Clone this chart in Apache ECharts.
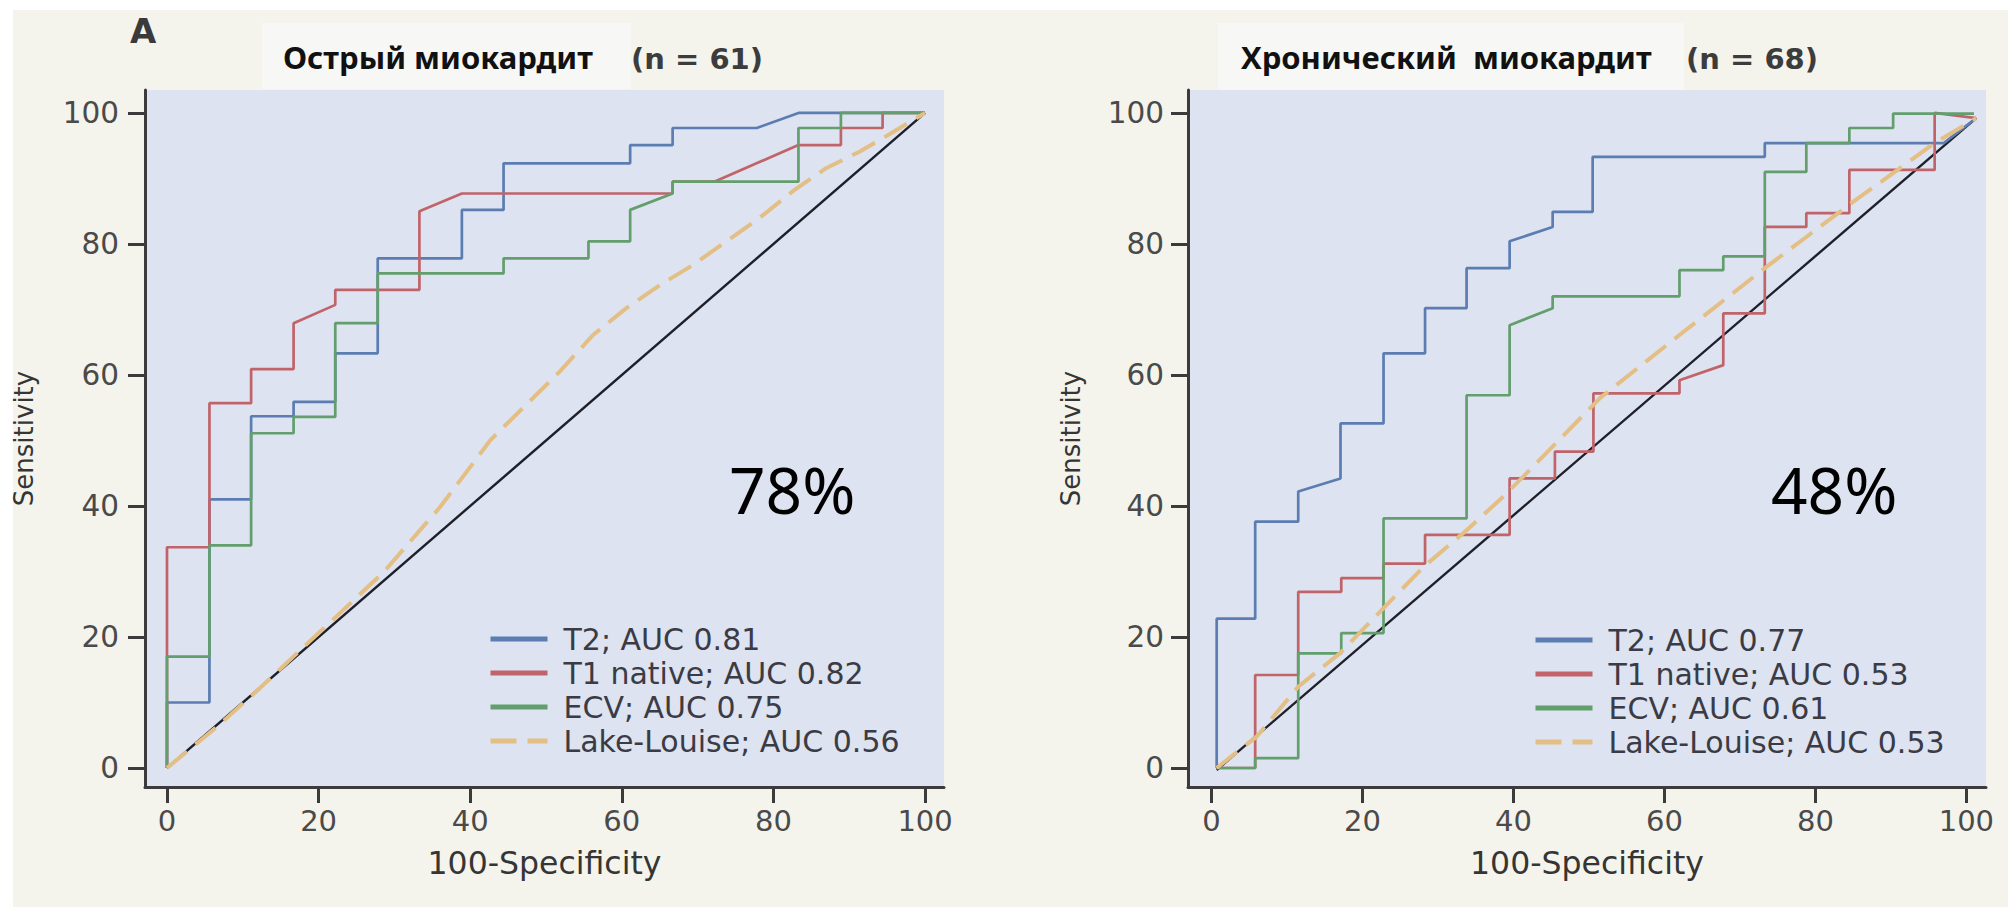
<!DOCTYPE html>
<html>
<head>
<meta charset="utf-8">
<title>ROC — миокардит</title>
<script src="https://cdn.jsdelivr.net/npm/echarts@6.0.0/dist/echarts.min.js"></script>
<style>
  html, body { margin: 0; padding: 0; background: #ffffff; }
  #chart { width: 2008px; height: 907px; }
</style>
</head>
<body>
<div id="chart"></div>
<script>
// tick values shared by both panels
const tickValues = [0, 20, 40, 60, 80, 100];

// panel A: acute myocarditis, points are [100-specificity, sensitivity]
const acuteT2 = [[0, 0], [0, 10], [5.6, 10], [5.6, 41], [11.1, 41], [11.1, 53.7], [16.7, 53.7], [16.7, 55.9],
  [22.2, 55.9], [22.2, 63.3], [27.8, 63.3], [27.8, 77.8], [38.9, 77.8], [38.9, 85.2], [44.4, 85.2], [44.4, 92.3],
  [61.1, 92.3], [61.1, 95.1], [66.7, 95.1], [66.7, 97.7], [77.8, 97.7], [83.3, 100], [100, 100]];
const acuteT1 = [[0, 0], [0, 33.7], [5.6, 33.7], [5.6, 55.7], [11.1, 55.7], [11.1, 60.9], [16.7, 60.9], [16.7, 67.9],
  [22.2, 70.7], [22.2, 73.0], [33.3, 73.0], [33.3, 85.0], [38.9, 87.7], [66.7, 87.7], [66.7, 89.5], [72.2, 89.5],
  [83.3, 95.1], [88.9, 95.1], [88.9, 97.7], [94.4, 97.7], [94.4, 100], [100, 100]];
const acuteEcv = [[0, 0], [0, 17], [5.6, 17], [5.6, 34], [11.1, 34], [11.1, 51.1], [16.7, 51.1], [16.7, 53.6],
  [22.2, 53.6], [22.2, 67.9], [27.8, 67.9], [27.8, 75.5], [44.4, 75.5], [44.4, 77.8], [55.6, 77.8], [55.6, 80.4],
  [61.1, 80.4], [61.1, 85.2], [66.7, 87.7], [66.7, 89.5], [83.3, 89.5], [83.3, 97.7], [88.9, 97.7], [88.9, 100], [100, 100]];
const acuteLake = [[0, 0], [6.6, 6.3], [11.6, 11.5], [20, 20.6], [28.5, 29.8], [36, 39.8], [42.7, 50.1], [51.8, 60.5],
  [56.2, 66.1], [60.6, 70.2], [65, 73.7], [69.4, 76.8], [73.8, 80.4], [78.2, 84], [82.6, 88.1], [87, 91.6],
  [91.4, 94.1], [95.8, 97.1], [100, 100]];
const acuteChance = [[0, 0], [100, 100]];

// panel B: chronic myocarditis
const chronicT2 = [[0.7, 0], [0.7, 22.8], [5.8, 22.8], [5.8, 37.6], [11.5, 37.6], [11.5, 42.2], [17.1, 44.2], [17.1, 52.6],
  [22.8, 52.6], [22.8, 63.3], [28.3, 63.3], [28.3, 70.2], [33.8, 70.2], [33.8, 76.3], [39.5, 76.3], [39.5, 80.4],
  [45.2, 82.6], [45.2, 84.9], [50.5, 84.9], [50.5, 93.3], [73.3, 93.3], [73.3, 95.4], [97, 95.4], [101.3, 99.2]];
const chronicT1 = [[0.7, 0], [5.8, 0], [5.8, 14.2], [11.5, 14.2], [11.5, 26.9], [17.2, 26.9], [17.2, 29.0], [22.8, 29.0],
  [22.8, 31.2], [28.3, 31.2], [28.3, 35.6], [39.5, 35.6], [39.5, 44.2], [45.5, 44.2], [45.5, 48.3], [50.6, 48.3],
  [50.6, 57.2], [62, 57.2], [62, 59.2], [67.8, 61.5], [67.8, 69.4], [73.3, 69.4], [73.3, 82.6], [78.8, 82.6],
  [78.8, 84.7], [84.5, 84.7], [84.5, 91.3], [95.8, 91.3], [95.8, 100], [101.3, 99.2]];
const chronicEcv = [[0.7, 0], [5.8, 0], [5.8, 1.5], [11.5, 1.5], [11.5, 17.5], [17.2, 17.5], [17.2, 20.6], [22.8, 20.6],
  [22.8, 38.1], [33.8, 38.1], [33.8, 56.9], [39.5, 56.9], [39.5, 67.6], [45.2, 70.2], [45.2, 72.0], [62, 72.0],
  [62, 76.0], [67.8, 76.0], [67.8, 78.1], [73.3, 78.1], [73.3, 91.0], [78.8, 91.0], [78.8, 95.4], [84.5, 95.4],
  [84.5, 97.7], [90.3, 97.7], [90.3, 99.9], [101, 99.9]];
const chronicLake = [[0.7, 0], [6, 4.8], [11.5, 12.4], [17, 17.5], [22.8, 24.4], [28.1, 30.7], [33.8, 36.3], [39.1, 41.9],
  [44.8, 48.6], [51.5, 56.5], [62, 66.1], [73.3, 76.3], [84.5, 86], [95.8, 95.4], [101.3, 99.2]];
const chronicChance = [[0.7, -0.3], [101.3, 99.2]];

const acuteNames = ['T2; AUC 0.81', 'T1 native; AUC 0.82', 'ECV; AUC 0.75', 'Lake-Louise; AUC 0.56'];
const chronicNames = ['T2; AUC 0.77', 'T1 native; AUC 0.53', 'ECV; AUC 0.61', 'Lake-Louise; AUC 0.53'];
const panelTitles = ['Острый миокардит', 'Хронический  миокардит'];
const panelCounts = ['(n = 61)', '(n = 68)'];
const panelAccuracy = ['78%', '48%'];

const colors = ['#5b7db2', '#c0646a', '#639e6d', '#e3bf85'];
const axisColor = '#3b3b3b';
const labelFont = 'DejaVu Sans';

function makeXAxis(gridIndex, min, max) {
  return {
    type: 'value', gridIndex, min, max,
    name: '100-Specificity', nameLocation: 'middle', nameGap: 60,
    nameTextStyle: { fontFamily: labelFont, fontSize: 31.5, color: '#353535' },
    axisLine: { onZero: false, lineStyle: { color: axisColor, width: 3 } },
    axisTick: { customValues: tickValues, length: 16, lineStyle: { color: axisColor, width: 3 } },
    axisLabel: { customValues: tickValues, margin: 19, fontFamily: labelFont, fontSize: 29, color: '#4a4a4a' },
    splitLine: { show: false }
  };
}

function makeYAxis(gridIndex, nameGap, margin) {
  return {
    type: 'value', gridIndex, min: -2.9, max: 103.5,
    name: 'Sensitivity', nameLocation: 'middle', nameGap,
    nameTextStyle: { fontFamily: labelFont, fontSize: 26, color: '#353535' },
    axisLine: { onZero: false, lineStyle: { color: axisColor, width: 3 } },
    axisTick: { customValues: tickValues, length: 17, lineStyle: { color: axisColor, width: 3 } },
    axisLabel: { customValues: tickValues, margin, fontFamily: labelFont, fontSize: 29.5, color: '#4a4a4a' },
    splitLine: { show: false }
  };
}

function curve(name, data, idx, color, dashed) {
  return {
    name, type: 'line', data, xAxisIndex: idx, yAxisIndex: idx,
    symbol: 'none', showSymbol: false, silent: true,
    lineStyle: dashed ? { color, width: 4, type: [26, 11] } : { color, width: 2.7 },
    itemStyle: { color }
  };
}

function chance(data, idx) {
  return {
    name: 'chance' + idx, type: 'line', data, xAxisIndex: idx, yAxisIndex: idx,
    symbol: 'none', silent: true, z: 1,
    lineStyle: { color: '#1f1f2a', width: 2.4 }
  };
}

function makeLegend(names, left, top) {
  return {
    data: names, orient: 'vertical', left, top,
    itemWidth: 57, itemHeight: 14, itemGap: 0,
    selectedMode: false,
    itemStyle: { opacity: 0 },
    lineStyle: { width: 5 },
    textStyle: { fontFamily: labelFont, fontSize: 30, color: '#3b3b45', lineHeight: 34, padding: [0, 0, 0, 11] }
  };
}

function titleText(text, x, y, font, weight, size, color) {
  return {
    type: 'text', left: x, top: y - size / 2, z: 10,
    style: { text, fontFamily: font, fontWeight: weight, fontSize: size, fill: color }
  };
}

const chart = echarts.init(document.getElementById('chart'), null, { renderer: 'svg' });

chart.setOption({
  animation: false,
  backgroundColor: '#ffffff',
  grid: [
    { left: 145, top: 90, width: 799, height: 697, show: true, backgroundColor: '#dde3f0', borderWidth: 0, containLabel: false, outerBoundsMode: 'none' },
    { left: 1188, top: 90, width: 798, height: 697, show: true, backgroundColor: '#dde3f0', borderWidth: 0, containLabel: false, outerBoundsMode: 'none' }
  ],
  xAxis: [makeXAxis(0, -2.9, 102.5), makeXAxis(1, -3.1, 102.6)],
  yAxis: [makeYAxis(0, 108, 26), makeYAxis(1, 104, 24)],
  legend: [makeLegend(acuteNames, 483, 617), makeLegend(chronicNames, 1528, 618)],
  series: [
    curve(acuteNames[0], acuteT2, 0, colors[0]),
    curve(acuteNames[1], acuteT1, 0, colors[1]),
    curve(acuteNames[2], acuteEcv, 0, colors[2]),
    curve(acuteNames[3], acuteLake, 0, colors[3], true),
    chance(acuteChance, 0),
    curve(chronicNames[0], chronicT2, 1, colors[0]),
    curve(chronicNames[1], chronicT1, 1, colors[1]),
    curve(chronicNames[2], chronicEcv, 1, colors[2]),
    curve(chronicNames[3], chronicLake, 1, colors[3], true),
    chance(chronicChance, 1)
  ],
  graphic: [
    { type: 'rect', left: 13, top: 10, z: -10, shape: { width: 1995, height: 897 }, style: { fill: '#f4f4ec' } },
    { type: 'rect', left: 262, top: 23, z: -5, shape: { width: 369, height: 66 }, style: { fill: '#f7f7f5' } },
    { type: 'rect', left: 1218, top: 23, z: -5, shape: { width: 466, height: 67 }, style: { fill: '#f7f7f5' } },
    titleText('A', 130, 31, labelFont, 'bold', 34, '#3a3a3a'),
    titleText(panelTitles[0], 283, 57, 'Noto Sans', 'bold', 31, '#111111'),
    titleText(panelCounts[0], 631, 59, labelFont, 'bold', 29, '#3c3c3c'),
    titleText(panelTitles[1], 1241, 57, 'Noto Sans', 'bold', 31, '#111111'),
    titleText(panelCounts[1], 1686, 59, labelFont, 'bold', 29, '#3c3c3c'),
    titleText(panelAccuracy[0], 729, 489, 'Noto Sans', 'normal', 64, '#000000'),
    titleText(panelAccuracy[1], 1771, 489, 'Noto Sans', 'normal', 64, '#000000')
  ]
});
</script>
</body>
</html>
